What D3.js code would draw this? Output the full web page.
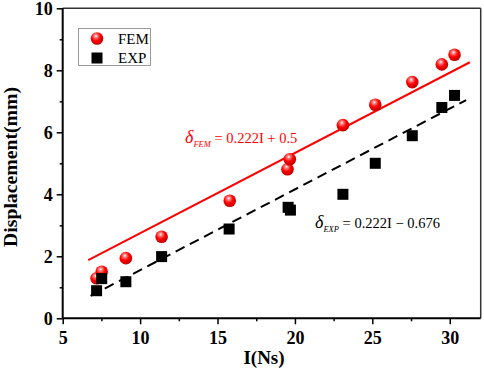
<!DOCTYPE html>
<html><head><meta charset="utf-8">
<script src="https://cdn.jsdelivr.net/npm/d3@7/dist/d3.min.js"></script>
<style>body{margin:0;background:#fff}svg{display:block}</style>
</head><body>
<svg id="c" width="484" height="370"></svg>
<script>
const femI = [7.19, 7.52, 9.08, 11.39, 15.79, 19.52, 19.67, 23.1, 25.19, 27.58, 29.49, 30.31];
const femD = [1.29, 1.50, 1.94, 2.63, 3.79, 4.81, 5.13, 6.23, 6.89, 7.62, 8.19, 8.50];
const expI = [7.19, 7.52, 9.08, 11.39, 15.75, 19.56, 19.71, 23.1, 25.19, 27.58, 29.49, 30.31];
const expD = [0.89, 1.28, 1.18, 1.99, 2.88, 3.58, 3.49, 4.0, 5.0, 5.89, 6.8, 7.19];
const femFitI = [6.65, 31.3];
const femFitD = [1.88, 8.26];
const expFitI = [6.8, 31.06];
const expFitD = [0.72, 7.04];
const xTicks = [5, 10, 15, 20, 25, 30];
const yTicks = [0, 2, 4, 6, 8, 10];

const svg = d3.select('#c');
const L = 62.7, R = 480.7, T = 8.3, B = 318.3;
const x = d3.scaleLinear().domain([5, 32]).range([L, R]);
const y = d3.scaleLinear().domain([0, 10]).range([B, T]);
const serif = "Liberation Serif";

const defs = svg.append('defs');
const g = defs.append('radialGradient').attr('id', 'ball').attr('cx', '0.4').attr('cy', '0.35').attr('r', '0.65').attr('fx','0.42').attr('fy','0.3');
g.append('stop').attr('offset', '0').attr('stop-color', '#ffffff');
g.append('stop').attr('offset', '0.2').attr('stop-color', '#ff8080');
g.append('stop').attr('offset', '0.55').attr('stop-color', '#ff0000');
g.append('stop').attr('offset', '1').attr('stop-color', '#c00000');

// frame top/right
svg.append('line').attr('x1', L).attr('x2', R).attr('y1', T).attr('y2', T).attr('stroke', '#333').attr('stroke-width', 1.5);
svg.append('line').attr('x1', R).attr('x2', R).attr('y1', T).attr('y2', B).attr('stroke', '#333').attr('stroke-width', 1.5);

// axes
const xAxis = d3.axisBottom(x).tickValues(xTicks).tickSize(6).tickPadding(7).tickFormat(d3.format('d'));
const xMinor = d3.axisBottom(x).tickValues(d3.range(7.5, 32, 5)).tickSize(3).tickFormat('');
const yAxis = d3.axisLeft(y).tickValues(yTicks).tickSize(6).tickPadding(4).tickFormat(d3.format('d'));
const yMinor = d3.axisLeft(y).tickValues(d3.range(1, 10, 2)).tickSize(3).tickFormat('');

function style(sel) {
  sel.attr('font-family', serif).attr('font-weight', 'bold').attr('font-size', 18);
  sel.select('.domain').attr('stroke', '#000').attr('stroke-width', 2);
  sel.selectAll('.tick line').attr('stroke', '#000').attr('stroke-width', 1.5);
  sel.selectAll('.tick text').attr('fill', '#000');
}
const gx = svg.append('g').attr('transform', `translate(0,${B})`).call(xAxis); style(gx);
gx.select('.domain').attr('d', `M${L},0H${R}`);
const gxm = svg.append('g').attr('transform', `translate(0,${B})`).call(xMinor); style(gxm);
gxm.select('.domain').remove();
const gy = svg.append('g').attr('transform', `translate(${L},0)`).call(yAxis); style(gy);
gy.select('.domain').attr('d', `M0,${T}V${B}`);
const gym = svg.append('g').attr('transform', `translate(${L},0)`).call(yMinor); style(gym);
gym.select('.domain').remove();

// titles
svg.append('text').attr('x', 264).attr('y', 364).attr('text-anchor', 'middle')
  .attr('font-family', serif).attr('font-weight', 'bold').attr('font-size', 19).text('I(Ns)');
svg.append('text').attr('transform', `translate(17,167) rotate(-90)`).attr('text-anchor', 'middle')
  .attr('font-family', serif).attr('font-weight', 'bold').attr('font-size', 18)
  .attr('textLength', 160).attr('lengthAdjust', 'spacingAndGlyphs').text('Displacement(mm)');

// fit lines
const line = d3.line().x(d => x(d[0])).y(d => y(d[1]));
svg.append('path').attr('d', line(femFitI.map((v, i) => [v, femFitD[i]]))).attr('stroke', '#ff0000').attr('stroke-width', 2).attr('fill', 'none');
svg.append('path').attr('d', line(expFitI.map((v, i) => [v, expFitD[i]]))).attr('stroke', '#000').attr('stroke-width', 2).attr('stroke-dasharray', '10,6').attr('fill', 'none');

// points
svg.append('g').selectAll('circle').data(femI).join('circle')
  .attr('cx', d => x(d)).attr('cy', (d, i) => y(femD[i])).attr('r', 6.3).attr('fill', 'url(#ball)');
const s = 11;
svg.append('g').selectAll('rect').data(expI).join('rect')
  .attr('x', d => x(d) - s / 2).attr('y', (d, i) => y(expD[i]) - s / 2).attr('width', s).attr('height', s).attr('fill', '#000');

// legend
svg.append('rect').attr('x', 78.5).attr('y', 28.5).attr('width', 72).attr('height', 37).attr('fill', '#fff').attr('stroke', '#999').attr('stroke-width', 1);
svg.append('circle').attr('cx', 97).attr('cy', 38.5).attr('r', 6.3).attr('fill', 'url(#ball)');
svg.append('rect').attr('x', 91.5).attr('y', 52.5).attr('width', 11).attr('height', 11).attr('fill', '#000');
svg.append('text').attr('x', 118).attr('y', 44).attr('font-family', serif).attr('font-size', 15).text('FEM');
svg.append('text').attr('x', 118).attr('y', 63).attr('font-family', serif).attr('font-size', 15).text('EXP');

// equations
function eq(px, py, color, sub, rest) {
  const t = svg.append('text').attr('x', px).attr('y', py).attr('fill', color).attr('font-family', serif).attr('font-size', 14.5);
  t.append('tspan').attr('font-style', 'italic').attr('font-size', 18).text('δ');
  t.append('tspan').attr('font-style', 'italic').attr('font-size', 8.5).attr('dy', 4).text(sub);
  t.append('tspan').attr('dy', -4).text(' = ' + rest);
}
eq(185, 143, '#ff0000', 'FEM', '0.222I + 0.5');
eq(315, 228, '#000', 'EXP', '0.222I − 0.676');
</script>
</body></html>
